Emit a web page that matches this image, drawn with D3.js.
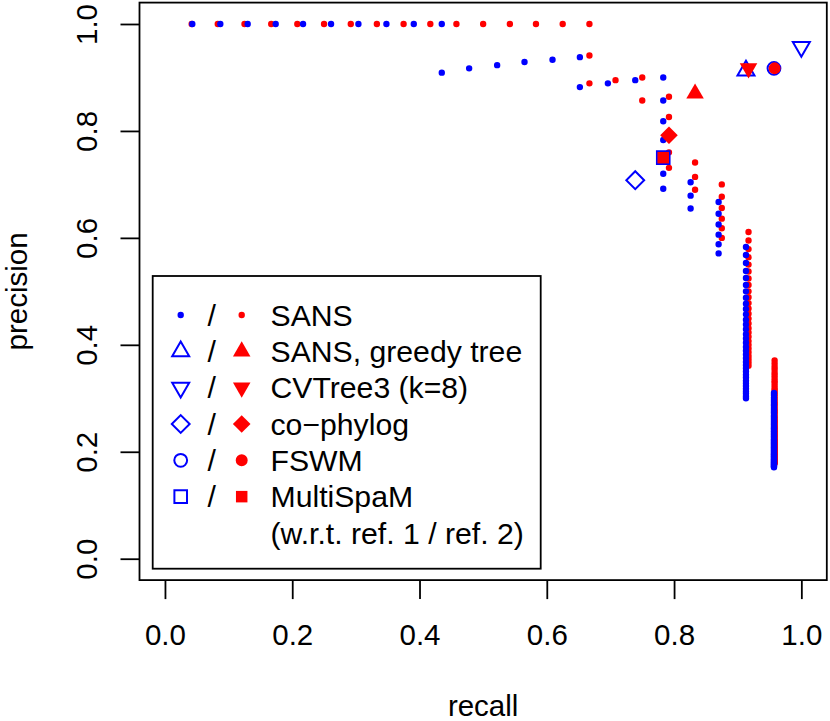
<!DOCTYPE html>
<html>
<head>
<meta charset="utf-8">
<script src="https://cdn.jsdelivr.net/npm/d3@7/dist/d3.min.js"></script>
<style>
  html, body { margin: 0; padding: 0; background: #fff; }
  svg { display: block; }
  text { font-family: "Liberation Sans", Arial, Helvetica, sans-serif; }
</style>
</head>
<body>
<svg id="chart" width="830" height="721"></svg>
<script>
// ---------------- DATA ----------------
// SANS w.r.t. reference 1 (blue): one recall value per column, with the precision values of the points in that column
const sansRecallRef1 = [0.043, 0.087, 0.130, 0.174, 0.217, 0.261, 0.304, 0.348, 0.391, 0.435,
  0.478, 0.522, 0.565, 0.609, 0.652, 0.696, 0.739, 0.783, 0.826, 0.870, 0.913, 0.957];
const sansPrecisionRef1 = [
  [1], [1], [1], [1], [1], [1], [1], [1], [1], [1, 0.909],
  [0.917], [0.923], [0.929], [0.933], [0.938, 0.882], [0.889], [0.895],
  [0.900, 0.857, 0.818, 0.783, 0.750, 0.720, 0.692],
  [0.704, 0.679, 0.655],
  [0.667, 0.645, 0.625, 0.606, 0.588, 0.571],
  [0.583, 0.568, 0.553, 0.538, 0.525, 0.512, 0.500, 0.488, 0.477, 0.467, 0.457, 0.447, 0.438, 0.429,
   0.420, 0.412, 0.404, 0.396, 0.389, 0.382, 0.375, 0.368, 0.362, 0.356, 0.350, 0.344, 0.339, 0.333,
   0.328, 0.323, 0.318, 0.313, 0.309, 0.304, 0.300],
  [0.310, 0.306, 0.301, 0.297, 0.293, 0.289, 0.286, 0.282, 0.278, 0.275, 0.272, 0.268, 0.265, 0.262,
   0.259, 0.256, 0.253, 0.250, 0.247, 0.244, 0.242, 0.239, 0.237, 0.234, 0.232, 0.229, 0.227, 0.224,
   0.222, 0.220, 0.218, 0.216, 0.214, 0.212, 0.210, 0.208, 0.206, 0.204, 0.202, 0.200, 0.198, 0.196,
   0.195, 0.193, 0.191, 0.190, 0.188, 0.186, 0.185, 0.183, 0.182, 0.180, 0.179, 0.177, 0.176, 0.175,
   0.173, 0.172, 0.171]
];

// SANS w.r.t. reference 2 (red)
const sansRecallRef2 = [0.042, 0.083, 0.125, 0.167, 0.208, 0.250, 0.292, 0.333, 0.375, 0.417,
  0.458, 0.500, 0.542, 0.583, 0.625, 0.667, 0.708, 0.750, 0.792, 0.833, 0.875, 0.917, 0.958];
const sansPrecisionRef2 = [
  [1], [1], [1], [1], [1], [1], [1], [1], [1], [1], [1], [1], [1], [1], [1],
  [1, 0.941, 0.889], [0.895], [0.900, 0.857],
  [0.864, 0.826, 0.792, 0.760, 0.731],
  [0.741, 0.714, 0.690],
  [0.700, 0.677, 0.656, 0.636, 0.618, 0.600],
  [0.611, 0.595, 0.579, 0.564, 0.550, 0.537, 0.524, 0.512, 0.500, 0.489, 0.478, 0.468, 0.458, 0.449,
   0.440, 0.431, 0.423, 0.415, 0.407, 0.400, 0.393, 0.386, 0.379, 0.373, 0.367, 0.361],
  [0.371, 0.365, 0.359, 0.354, 0.348, 0.343, 0.338, 0.333, 0.329, 0.324, 0.319, 0.315, 0.311, 0.307,
   0.303, 0.299, 0.295, 0.291, 0.288, 0.284, 0.280, 0.277, 0.274, 0.271, 0.267, 0.264, 0.261, 0.258,
   0.256, 0.253, 0.250, 0.247, 0.245, 0.242, 0.240, 0.237, 0.235, 0.232, 0.230, 0.228, 0.225, 0.223,
   0.221, 0.219, 0.217, 0.215, 0.213, 0.211, 0.209, 0.207, 0.205, 0.204, 0.202, 0.200, 0.198, 0.197,
   0.195, 0.193, 0.192, 0.190, 0.189, 0.187, 0.185, 0.184, 0.183, 0.181, 0.180, 0.178]
];

// Other tools: one point each per reference
const toolNames = ["SANS, greedy tree", "CVTree3 (k=8)", "co\u2212phylog", "FSWM", "MultiSpaM"];
const toolRecallRef1    = [0.913, 1.000, 0.739, 0.957, 0.783];
const toolPrecisionRef1 = [0.913, 0.957, 0.708, 0.917, 0.750];
const toolRecallRef2    = [0.833, 0.917, 0.792, 0.958, 0.783];
const toolPrecisionRef2 = [0.870, 0.917, 0.792, 0.917, 0.750];

const legendLabels = ["SANS", "SANS, greedy tree", "CVTree3 (k=8)", "co\u2212phylog", "FSWM", "MultiSpaM", "(w.r.t. ref. 1 / ref. 2)"];
const xTicks = [0, 0.2, 0.4, 0.6, 0.8, 1.0];
const yTicks = [0, 0.2, 0.4, 0.6, 0.8, 1.0];

// ---------------- STYLE ----------------
const BLUE = "#0000FF", RED = "#FF0000";
const FONT = 29.5, LEGEND_FONT = 30.2;
const shapeOf = ["triangle", "invTriangle", "diamond", "circle", "square"]; // per tool
const openSize  = { dot: 32, triangle: 125, invTriangle: 125, diamond: 159, circle: 129, square: 159 };
const filledSize = { dot: 32, triangle: 133, invTriangle: 133, diamond: 155, circle: 113, square: 132 };

function symbolPath(shape, size) {
  let type = d3.symbolCircle;
  if (shape === "triangle" || shape === "invTriangle") type = d3.symbolTriangle;
  if (shape === "square" || shape === "diamond") type = d3.symbolSquare;
  return d3.symbol().type(type).size(size)();
}
function rot(shape) {
  if (shape === "invTriangle") return " rotate(180)";
  if (shape === "diamond") return " rotate(45)";
  return "";
}
function drawSymbol(g, cx, cy, shape, filled, color) {
  const size = filled ? filledSize[shape] : openSize[shape];
  const p = g.append("path")
    .attr("d", symbolPath(shape, size))
    .attr("transform", `translate(${cx},${cy})${rot(shape)}`);
  if (shape === "dot" || filled) {
    p.attr("fill", color).attr("stroke", "none");
  } else {
    p.attr("fill", "none").attr("stroke", color).attr("stroke-width", 2);
  }
}

// ---------------- CHART ----------------
const svg = d3.select("#chart");
const L = 139.5, R = 826.8, T = 2.6, B = 580.1;
const x = d3.scaleLinear().domain([-0.04, 1.04]).range([L, R]);
const y = d3.scaleLinear().domain([-0.04, 1.04]).range([B, T]);

function flatten(recalls, precisions) {
  const pts = [];
  recalls.forEach((r, i) => precisions[i].forEach(p => pts.push({ r, p })));
  return pts;
}
const ptsRef1 = flatten(sansRecallRef1, sansPrecisionRef1);
const ptsRef2 = flatten(sansRecallRef2, sansPrecisionRef2);

const marks = svg.append("g");
// red first, blue on top
ptsRef2.forEach(d => drawSymbol(marks, x(d.r), y(d.p), "dot", true, RED));
ptsRef1.forEach(d => drawSymbol(marks, x(d.r), y(d.p), "dot", true, BLUE));
toolNames.forEach((name, i) => {
  drawSymbol(marks, x(toolRecallRef1[i]), y(toolPrecisionRef1[i]), shapeOf[i], false, BLUE);
  drawSymbol(marks, x(toolRecallRef2[i]), y(toolPrecisionRef2[i]), shapeOf[i], true, RED);
});

// Axes
const xAxis = svg.append("g").attr("transform", `translate(0,${B})`)
  .call(d3.axisBottom(x).tickValues(xTicks).tickFormat(d3.format(".1f")).tickSize(19).tickSizeOuter(0));
xAxis.select(".domain").remove();
xAxis.selectAll(".tick line").attr("stroke", "#000").attr("stroke-width", 1.8);
xAxis.selectAll(".tick text")
  .attr("y", 65.4).attr("dy", 0)
  .attr("font-size", FONT).attr("fill", "#000")
  .style("font-family", '"Liberation Sans", Arial, Helvetica, sans-serif');

const yAxis = svg.append("g").attr("transform", `translate(${L},0)`)
  .call(d3.axisLeft(y).tickValues(yTicks).tickFormat(d3.format(".1f")).tickSize(19).tickSizeOuter(0));
yAxis.select(".domain").remove();
yAxis.selectAll(".tick line").attr("stroke", "#000").attr("stroke-width", 1.8);
yAxis.selectAll(".tick text")
  .attr("x", 0).attr("y", 0).attr("dy", 0)
  .attr("text-anchor", "middle")
  .attr("transform", "translate(-42.7,0) rotate(-90)")
  .attr("font-size", FONT).attr("fill", "#000")
  .style("font-family", '"Liberation Sans", Arial, Helvetica, sans-serif');

// Plot box
svg.append("rect").attr("x", L).attr("y", T).attr("width", R - L).attr("height", B - T)
  .attr("fill", "none").attr("stroke", "#000").attr("stroke-width", 1.8);

// Axis titles
svg.append("text").attr("x", (L + R) / 2).attr("y", 716).attr("text-anchor", "middle")
  .attr("font-size", FONT).text("recall");
svg.append("text").attr("transform", `translate(26.5,${(T + B) / 2}) rotate(-90)`)
  .attr("text-anchor", "middle").attr("font-size", FONT).text("precision");

// Legend
const leg = svg.append("g");
leg.append("rect").attr("x", 152.7).attr("y", 276).attr("width", 388).attr("height", 292.7)
  .attr("fill", "#fff").attr("stroke", "#000").attr("stroke-width", 1.8);
const legendShapes = ["dot"].concat(shapeOf);
const rowY = i => 315 + 36.33 * i;
legendLabels.forEach((lab, i) => {
  const cy = rowY(i);
  if (i < legendShapes.length) {
    drawSymbol(leg, 180.7, cy, legendShapes[i], false, BLUE);
    leg.append("text").attr("x", 211.7).attr("y", cy + 10.7).attr("text-anchor", "middle")
      .attr("font-size", LEGEND_FONT).text("/");
    drawSymbol(leg, 241.7, cy, legendShapes[i], true, RED);
  }
  leg.append("text").attr("x", 270.5).attr("y", cy + 10.7).attr("font-size", LEGEND_FONT).text(lab);
});
</script>
</body>
</html>
